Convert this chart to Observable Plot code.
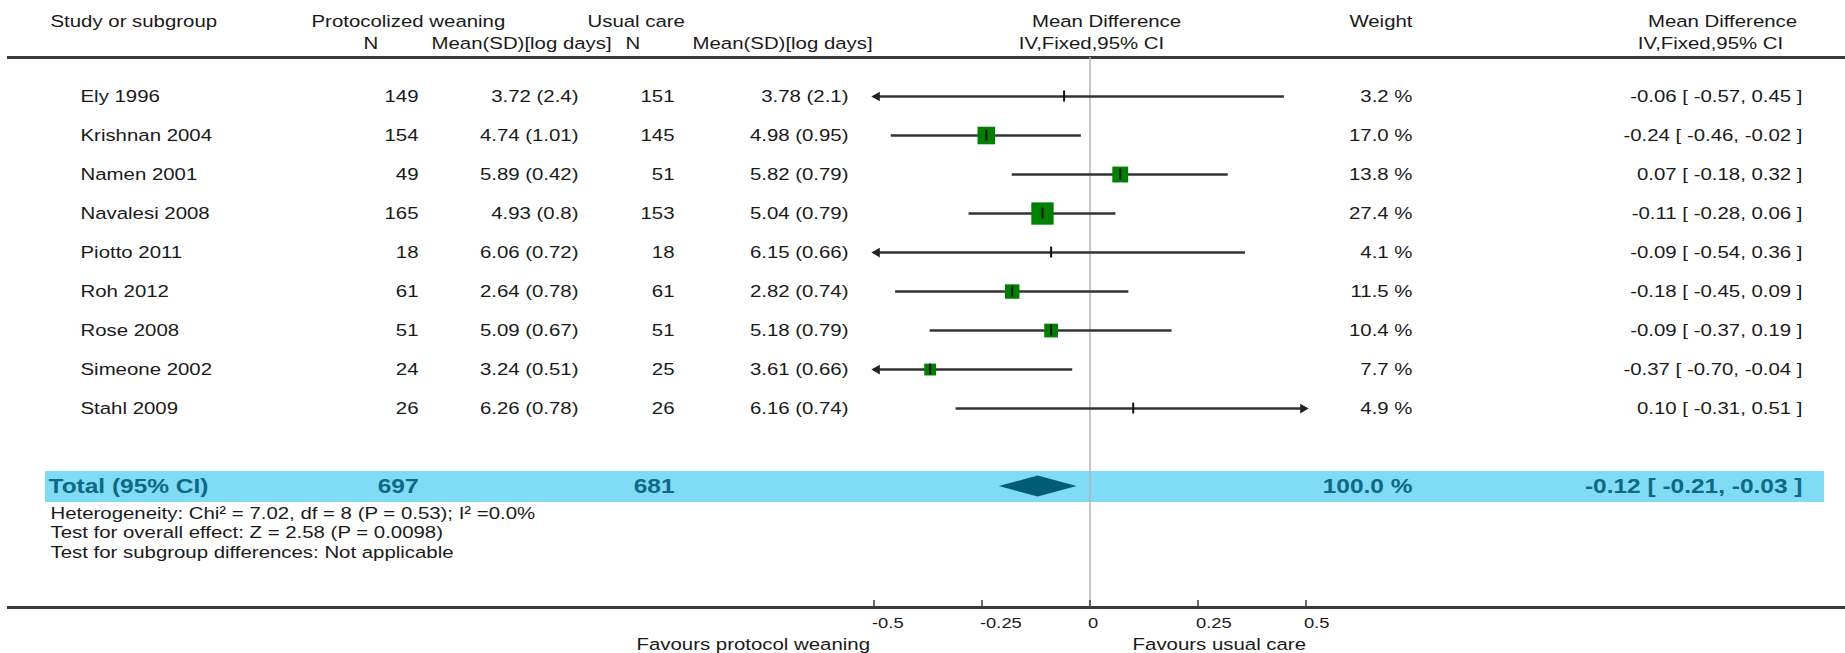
<!DOCTYPE html>
<html>
<head>
<meta charset="utf-8">
<script src="https://cdn.jsdelivr.net/npm/d3@7"></script>
<script src="https://cdn.jsdelivr.net/npm/@observablehq/plot@0.6"></script>
<style>
  body { margin: 0; background: #fff; }
  #chart svg { display: block; font-family: "Liberation Sans", Arial, Helvetica, sans-serif; }
</style>
</head>
<body>
<div id="chart"></div>
<script>
// Studies comparing protocolized weaning with usual care (log days)
const studies = ["Ely 1996", "Krishnan 2004", "Namen 2001", "Navalesi 2008", "Piotto 2011", "Roh 2012", "Rose 2008", "Simeone 2002", "Stahl 2009"];
const protN = [149, 154, 49, 165, 18, 61, 51, 24, 26];
const protMean = [3.72, 4.74, 5.89, 4.93, 6.06, 2.64, 5.09, 3.24, 6.26];
const protSD = [2.4, 1.01, 0.42, 0.8, 0.72, 0.78, 0.67, 0.51, 0.78];
const usualN = [151, 145, 51, 153, 18, 61, 51, 25, 26];
const usualMean = [3.78, 4.98, 5.82, 5.04, 6.15, 2.82, 5.18, 3.61, 6.16];
const usualSD = [2.1, 0.95, 0.79, 0.79, 0.66, 0.74, 0.79, 0.66, 0.74];
const meanDiff = [-0.06, -0.24, 0.07, -0.11, -0.09, -0.18, -0.09, -0.37, 0.10];
const ciLow = [-0.57, -0.46, -0.18, -0.28, -0.54, -0.45, -0.37, -0.70, -0.31];
const ciHigh = [0.45, -0.02, 0.32, 0.06, 0.36, 0.09, 0.19, -0.04, 0.51];
const weights = [3.2, 17.0, 13.8, 27.4, 4.1, 11.5, 10.4, 7.7, 4.9];

// Pooled result
const totalLabel = "Total (95% CI)";
const totalProtN = 697;
const totalUsualN = 681;
const totalWeight = 100.0;
const totalDiff = -0.12;
const totalLow = -0.21;
const totalHigh = -0.03;

const footnotes = [
  "Heterogeneity: Chi² = 7.02, df = 8 (P = 0.53); I² =0.0%",
  "Test for overall effect: Z = 2.58 (P = 0.0098)",
  "Test for subgroup differences: Not applicable"
];
const headerTop = ["Study or subgroup", "Protocolized weaning", "Usual care", "Mean Difference", "Weight", "Mean Difference"];
const headerSub = ["N", "Mean(SD)[log days]", "N", "Mean(SD)[log days]", "IV,Fixed,95% CI", "IV,Fixed,95% CI"];
const xTicks = [-0.5, -0.25, 0, 0.25, 0.5];
const favoursLeft = "Favours protocol weaning";
const favoursRight = "Favours usual care";

// ---- layout ----
const W = 1845, H = 653;
const xMin = -0.5, xMax = 0.5;
const headerRow = -1, totalRow = 10, axisRow = 13.1;
const axisY = 607;
const topHeaderPos = [[50, "start"], [311, "start"], [587, "start"], [1106, "middle"], [1412, "end"], [1722, "middle"]];
const subHeaderPos = [[363, "start"], [431, "start"], [625, "start"], [692, "start"], [1091, "middle"], [1710, "middle"]];
const col = {study: 80, protN: 418, protMean: 578, usualN: 674, usualMean: 848, weight: 1412, ci: 1802};

const ink = "#1a1a1a";
const totalInk = "#0f6885";
const fs = 17;          // table text
const textStretch = 1.2; // horizontal scaling of every label

const fmt2 = v => v.toFixed(2);
const rows = studies.map((s, i) => ({
  study: s,
  row: i,
  protN: protN[i],
  prot: `${fmt2(protMean[i])} (${protSD[i]})`,
  usualN: usualN[i],
  usual: `${fmt2(usualMean[i])} (${usualSD[i]})`,
  md: meanDiff[i],
  lo: ciLow[i],
  hi: ciHigh[i],
  weight: weights[i],
  wtxt: `${weights[i].toFixed(1)} %`,
  ci: `${fmt2(meanDiff[i])} [ ${fmt2(ciLow[i])}, ${fmt2(ciHigh[i])} ]`
}));
const total = [{
  label: totalLabel, row: totalRow, protN: totalProtN, usualN: totalUsualN,
  wtxt: `${totalWeight.toFixed(1)} %`,
  ci: `${fmt2(totalDiff)} [ ${fmt2(totalLow)}, ${fmt2(totalHigh)} ]`
}];
const diamondHalf = 0.27;
const diamond = [
  {x: totalLow, h: 0},
  {x: totalDiff, h: diamondHalf},
  {x: totalHigh, h: 0}
];
const minBoxWeight = 5;
const tickHalf = 0.14;

const colText = (field, x, anchor) =>
  Plot.text(rows, {y: "row", text: field, frameAnchor: "left", lineAnchor: "middle", dx: x, textAnchor: anchor, fontSize: fs, fill: ink});
const totalText = (field, x, anchor) =>
  Plot.text(total, {y: "row", text: field, frameAnchor: "left", lineAnchor: "middle", dx: x, textAnchor: anchor, fontSize: 20.4, fontWeight: "bold", fill: totalInk});
const headerText = (t, [x, anchor], top) =>
  Plot.text([t], {text: d => d, frameAnchor: "top-left", lineAnchor: "middle", dx: x, dy: top, textAnchor: anchor, fontSize: fs, fill: ink});

const chart = Plot.plot({
  width: W,
  height: H,
  marginTop: 0, marginRight: 0, marginBottom: H - axisY, marginLeft: 0,
  x: {domain: [xMin, xMax], range: [873.5, 1305.5], axis: null},
  y: {domain: [headerRow, axisRow], range: [57, axisY], axis: null},
  r: {type: "sqrt", domain: [0, 27.4], range: [0, 12.6]},
  marks: [
    // pooled-result band
    Plot.ruleY(total, {y: "row", stroke: "#80dcf5", strokeWidth: 31, insetLeft: 45, insetRight: 21}),
    // header and axis separators
    Plot.ruleY([headerRow], {stroke: "#3a3a3a", strokeWidth: 3, insetLeft: 7}),
    Plot.ruleY([axisRow], {stroke: "#3a3a3a", strokeWidth: 3, insetLeft: 7}),
    // line of no effect
    Plot.ruleX([0], {y1: headerRow, y2: axisRow, stroke: "#b3b3b3", strokeWidth: 1.5}),
    // confidence intervals, clipped to the axis range
    Plot.ruleY(rows, {y: "row", x1: d => Math.max(d.lo, xMin), x2: d => Math.min(d.hi, xMax), stroke: "#333", strokeWidth: 2.5}),
    Plot.dot(rows.filter(d => d.lo < xMin), {x: () => xMin, y: "row", symbol: "triangle", rotate: -90, r: 3.6, fill: "#222", dx: 3}),
    Plot.dot(rows.filter(d => d.hi > xMax), {x: () => xMax, y: "row", symbol: "triangle", rotate: 90, r: 3.6, fill: "#222", dx: -3}),
    // study weight boxes
    Plot.dot(rows.filter(d => d.weight >= minBoxWeight), {x: "md", y: "row", r: "weight", symbol: "square", fill: "#008000"}),
    // point estimates
    Plot.ruleX(rows, {x: "md", y1: d => d.row - tickHalf, y2: d => d.row + tickHalf, stroke: "#111", strokeWidth: 2}),
    // pooled diamond
    Plot.areaY(diamond, {x: "x", y1: d => totalRow - d.h, y2: d => totalRow + d.h, fill: "#005b79"}),
    // study table
    colText("study", col.study, "start"),
    colText("protN", col.protN, "end"),
    colText("prot", col.protMean, "end"),
    colText("usualN", col.usualN, "end"),
    colText("usual", col.usualMean, "end"),
    colText("wtxt", col.weight, "end"),
    colText("ci", col.ci, "end"),
    // pooled row
    totalText("label", 48, "start"),
    totalText("protN", col.protN, "end"),
    totalText("usualN", col.usualN, "end"),
    totalText("wtxt", col.weight, "end"),
    totalText("ci", col.ci, "end"),
    // column headers
    ...headerTop.map((t, i) => headerText(t, topHeaderPos[i], 21)),
    ...headerSub.map((t, i) => headerText(t, subHeaderPos[i], 43)),
    // footnotes
    Plot.text(footnotes, {y: (d, i) => 10.7 + i * 0.49, text: d => d, frameAnchor: "left", lineAnchor: "middle", dx: 50, textAnchor: "start", fontSize: fs, fill: ink}),
    // axis ticks and labels
    Plot.ruleX(xTicks, {x: d => d, y1: axisRow, y2: axisRow - 0.18, stroke: "#3a3a3a", strokeWidth: 1.5}),
    Plot.text(xTicks, {x: d => d, text: d => String(d), frameAnchor: "bottom", lineAnchor: "middle", dy: 16, textAnchor: "start", dx: -2, fontSize: 15.3, fill: ink}),
    Plot.text([favoursLeft], {x: () => xMin, text: d => d, frameAnchor: "bottom", lineAnchor: "middle", dy: 37, dx: -4, textAnchor: "end", fontSize: fs, fill: ink}),
    Plot.text([favoursRight], {x: () => xMax, text: d => d, frameAnchor: "bottom", lineAnchor: "middle", dy: 37, textAnchor: "end", fontSize: fs, fill: ink})
  ]
});

// Widen every label about its own anchor point
d3.select(chart).selectAll("text").each(function () {
  let t = this.getAttribute("transform");
  if (!t) {
    const x = +this.getAttribute("x") || 0, y = +this.getAttribute("y") || 0;
    this.removeAttribute("x");
    this.removeAttribute("y");
    t = `translate(${x},${y})`;
  }
  this.setAttribute("transform", `${t} scale(${textStretch},1)`);
});

document.getElementById("chart").append(chart);
</script>
</body>
</html>
